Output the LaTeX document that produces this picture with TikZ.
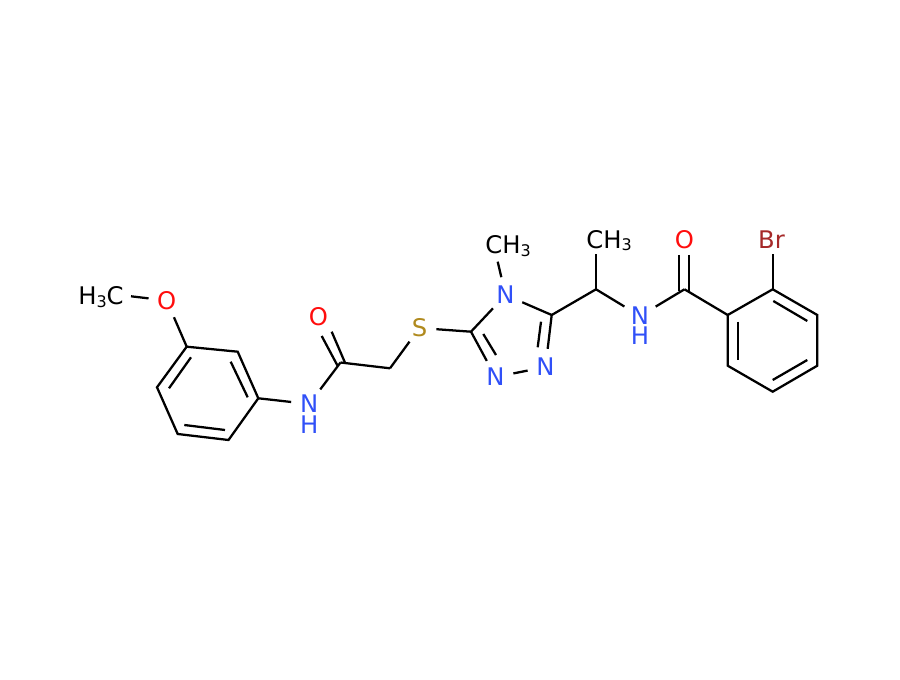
\documentclass[tikz,border=0pt]{standalone}
\usepackage{fontspec}
\setmainfont{DejaVu Sans}
\definecolor{atomN}{HTML}{3050F8}
\definecolor{atomO}{HTML}{FF0D0D}
\definecolor{atomS}{HTML}{B08A1E}
\definecolor{atomBr}{HTML}{A62929}
\newcommand{\subthree}{\raisebox{-0.1em}{\fontsize{12pt}{12pt}\selectfont 3}}
\begin{document}
\begin{tikzpicture}[x=0.75pt,y=-0.75pt,
  bond/.style={line width=1.7pt,line cap=butt,line join=miter},
  atomlabel/.style={circle,inner sep=0pt,minimum size=27pt,font=\fontsize{18.2pt}{19pt}\selectfont},
  plainlabel/.style={inner sep=0pt,font=\fontsize{18.2pt}{19pt}\selectfont,text=black},
  Hlabel/.style={inner sep=0pt,font=\fontsize{18.2pt}{19pt}\selectfont,text=atomN},
  Sulf/.style={atomlabel,minimum size=25pt,text=atomS},
  Nit/.style={atomlabel,text=atomN},
  Oxy/.style={atomlabel,text=atomO}]
\useasboundingbox (0,0) rectangle (900,680);
\fill[white] (0,0) rectangle (900,680);
% left ring
\coordinate (a1) at (186.7,346.7);
\coordinate (a2) at (237.7,351.7);
\coordinate (a3) at (258.3,398.3);
\coordinate (a4) at (228.5,440);
\coordinate (a5) at (177.7,434);
\coordinate (a6) at (157,387.3);
\coordinate (i1a) at (191,357.3);
\coordinate (i1b) at (169,388.3);
\coordinate (i2a) at (230.7,361.7);
\coordinate (i2b) at (247.7,397.3);
\coordinate (i3a) at (184.3,425);
\coordinate (i3b) at (225,430);
% chain carbons
\coordinate (c1) at (340.5,362.5);
\coordinate (c2) at (390,368.3);
\coordinate (c3) at (471,331.7);
\coordinate (c5) at (551.7,315);
\coordinate (c6) at (596,289.3);
\coordinate (c7) at (684.5,289.3);
\coordinate (d1a) at (321.7,336);
\coordinate (d1b) at (337.7,366);
\coordinate (d2a) at (331.7,331.7);
\coordinate (d2b) at (345,362.7);
\coordinate (d3a) at (541,321.7);
\coordinate (d3b) at (537.7,347.3);
\coordinate (d4a) at (483.3,334);
\coordinate (d4b) at (496,355);
\coordinate (d5a) at (679,255);
\coordinate (d5b) at (679,291.5);
\coordinate (d6a) at (689.3,255);
\coordinate (d6b) at (689.3,291.5);
% right ring
\coordinate (r1) at (727.7,315);
\coordinate (r2) at (772.7,289.3);
\coordinate (r3) at (817.3,315);
\coordinate (r4) at (817.3,365.7);
\coordinate (r5) at (772.7,391.7);
\coordinate (r6) at (727.7,365.7);
\coordinate (j1a) at (773.3,301);
\coordinate (j1b) at (807.3,321);
\coordinate (j2a) at (807.3,360);
\coordinate (j2b) at (772.7,380);
\coordinate (j3a) at (738.3,321.7);
\coordinate (j3b) at (738.3,360);
% labels
\node[plainlabel] (hc) at (101,297) {H\subthree C};
\coordinate (hcb) at (131,296.3);
\node[Oxy] (o1) at (166.7,300.5) {O};
\node[Nit] (n1) at (309.3,404) {N};
\node[Hlabel] (h1) at (309.3,425) {H};
\node[Oxy] (o2) at (318.5,317) {O};
\node[Sulf] (s) at (419.5,328) {S};
\node[Nit] (n4) at (505.5,295) {N};
\node[Nit] (n3) at (495.5,377) {N};
\node[Nit] (n2) at (545.5,367) {N};
\node[plainlabel] (me1) at (508,246) {CH\subthree};
\coordinate (me1b) at (497.7,261.7);
\node[plainlabel] (me2) at (609,240.5) {CH\subthree};
\coordinate (me2b) at (596,254.3);
\node[Nit] (n5) at (640,316) {N};
\node[Hlabel] (h5) at (640,336) {H};
\node[Oxy] (o3) at (684.5,240) {O};
\node[atomlabel,text=atomBr] (br) at (771.5,240) {Br};
\coordinate (brb) at (772.7,254.3);
% ring bonds
\draw[bond] (a1) -- (a2) -- (a3) -- (a4) -- (a5) -- (a6) -- cycle;
\draw[bond] (i1a) -- (i1b);
\draw[bond] (i2a) -- (i2b);
\draw[bond] (i3a) -- (i3b);
\draw[bond] (r1) -- (r2) -- (r3) -- (r4) -- (r5) -- (r6) -- cycle;
\draw[bond] (j1a) -- (j1b);
\draw[bond] (j2a) -- (j2b);
\draw[bond] (j3a) -- (j3b);
% substituents
\draw[bond] (hcb) -- (o1);
\draw[bond] (o1) -- (a1);
\draw[bond] (a3) -- (n1);
\draw[bond] (n1) -- (c1);
\draw[bond] (d1a) -- (d1b);
\draw[bond] (d2a) -- (d2b);
\draw[bond] (c1) -- (c2);
\draw[bond] (c2) -- (s);
\draw[bond] (s) -- (c3);
\draw[bond] (c3) -- (n4);
\draw[bond] (n4) -- (c5);
\draw[bond] (c5) -- (n2);
\draw[bond] (d3a) -- (d3b);
\draw[bond] (n2) -- (n3);
\draw[bond] (n3) -- (c3);
\draw[bond] (d4a) -- (d4b);
\draw[bond] (n4) -- (me1b);
\draw[bond] (c5) -- (c6);
\draw[bond] (c6) -- (me2b);
\draw[bond] (c6) -- (n5);
\draw[bond] (n5) -- (c7);
\draw[bond] (d5a) -- (d5b);
\draw[bond] (d6a) -- (d6b);
\draw[bond] (c7) -- (r1);
\draw[bond] (r2) -- (brb);
\end{tikzpicture}
\end{document}
